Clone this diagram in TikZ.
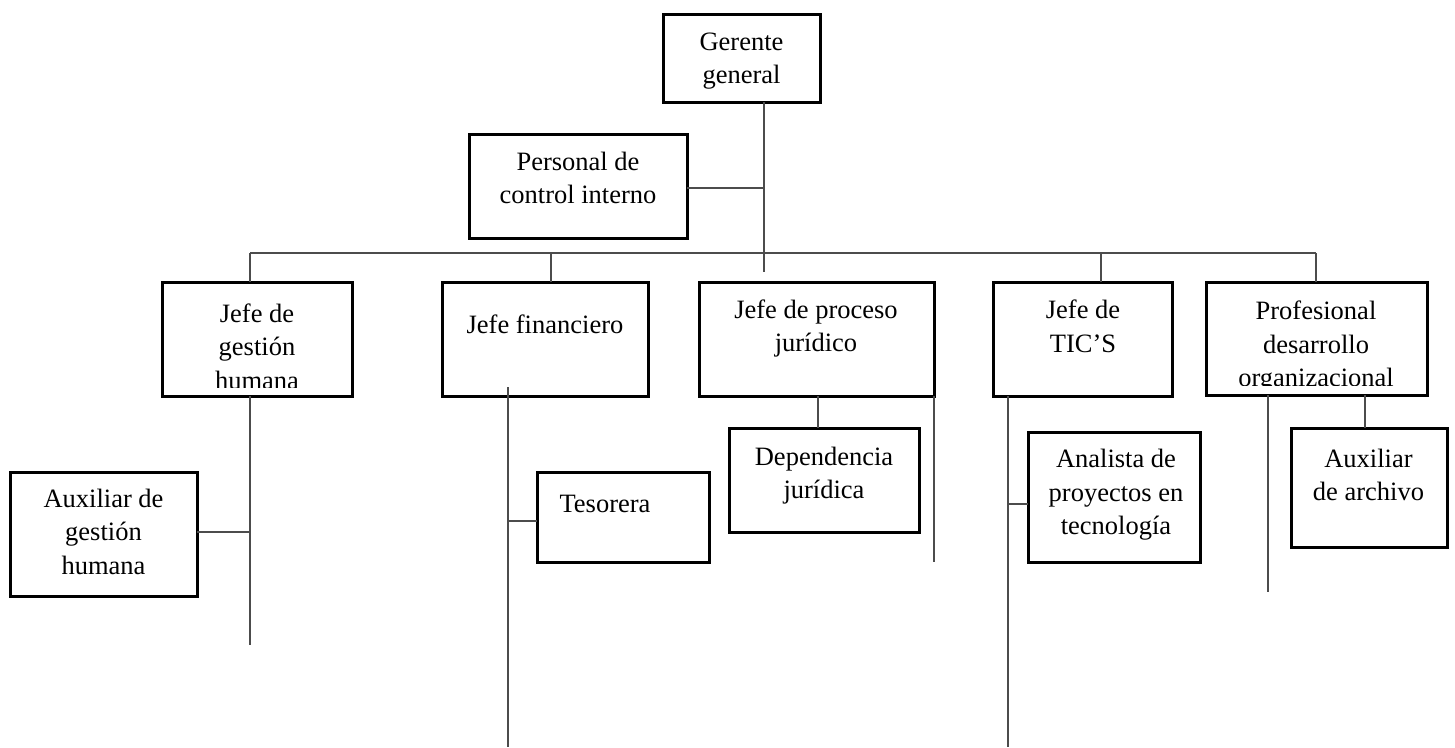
\documentclass[tikz,border=0pt]{standalone}
\usepackage{fontspec}
\setmainfont{Liberation Serif}
\tikzset{
  box/.style={draw=black, line width=3pt, inner sep=0pt, outer sep=0pt, anchor=north west},
  conn/.style={draw=black!70, line width=1.5pt},
  lbl/.style={inner sep=0pt, outer sep=0pt, anchor=base, font=\fontsize{26.5}{33.5}\selectfont}
}
\newcommand{\lines}[1]{\parbox[t]{260pt}{\centering #1}}
\begin{document}
\begin{tikzpicture}[x=1pt,y=-1pt]
\useasboundingbox (0,0) rectangle (1455,747);

% texts
\node[lbl] (gt) at (741.5,50) {\lines{Gerente\\general}};
\node[lbl] (pt) at (578,170) {\lines{Personal de\\control interno}};
\begin{scope}
  \clip (162,282) rectangle (352,387);
  \node[lbl] (jght) at (257,322) {\lines{Jefe de\\gestión\\humana}};
\end{scope}
\node[lbl] (jft) at (545,333) {\lines{Jefe financiero}};
\node[lbl] (jpjt) at (816,318) {\lines{Jefe de proceso\\jurídico}};
\node[lbl] (jtt) at (1083,318.5) {\lines{Jefe de\\TIC’S}};
\begin{scope}
  \clip (1206,282) rectangle (1427,385);
  \node[lbl] (pdt) at (1316,319.5) {\lines{Profesional\\desarrollo\\organizacional}};
\end{scope}
\node[lbl] (aght) at (103.5,507) {\lines{Auxiliar de\\gestión\\humana}};
\node[lbl] (test) at (605,512) {\lines{Tesorera}};
\node[lbl] (dept) at (824,465) {\lines{Dependencia\\jurídica}};
\node[lbl] (ant) at (1116,467.5) {\lines{Analista de\\proyectos en\\tecnología}};
\node[lbl] (aat) at (1368.5,467) {\lines{Auxiliar\\de archivo}};

% boxes
\node[box, minimum width=157pt, minimum height=88pt]  (g)   at (663,14)   {};
\node[box, minimum width=218pt, minimum height=104pt] (p)   at (469,134)  {};
\node[box, minimum width=190pt, minimum height=114pt] (jgh) at (162,282)  {};
\node[box, minimum width=206pt, minimum height=114pt] (jf)  at (442,282)  {};
\node[box, minimum width=235pt, minimum height=114pt] (jpj) at (699,282)  {};
\node[box, minimum width=179pt, minimum height=114pt] (jt)  at (993,282)  {};
\node[box, minimum width=221pt, minimum height=113pt] (pd)  at (1206,282) {};
\node[box, minimum width=187pt, minimum height=124pt] (agh) at (10,472)   {};
\node[box, minimum width=172pt, minimum height=90pt]  (tes) at (537,472)  {};
\node[box, minimum width=190pt, minimum height=104pt] (dep) at (729,428)  {};
\node[box, minimum width=172pt, minimum height=130pt] (an)  at (1028,432) {};
\node[box, minimum width=156pt, minimum height=119pt] (aa)  at (1291,428) {};

% junction coordinates
\coordinate (t1) at (764,272);
\coordinate (b1) at (250,253);
\coordinate (b2) at (551,253);
\coordinate (b4) at (1101,253);
\coordinate (b5) at (1316,253);
\coordinate (e1) at (250,645);
\coordinate (f0) at (508,387);
\coordinate (f1) at (508,747);
\coordinate (tj) at (508,521);
\coordinate (d0) at (818,428);
\coordinate (r1) at (934,562);
\coordinate (k1) at (1008,747);
\coordinate (kj) at (1008,504);
\coordinate (m1) at (1268,592);
\coordinate (m2) at (1365,428);

% connectors
\draw[conn] (g.south -| t1) -- (t1);
\draw[conn] (p.east |- 0,188) -- (t1 |- 0,188);
\draw[conn] (b1) -- (b5);
\draw[conn] (b1) -- (jgh.north -| b1);
\draw[conn] (b2) -- (jf.north -| b2);
\draw[conn] (b4) -- (jt.north -| b4);
\draw[conn] (b5) -- (pd.north -| b5);
\draw[conn] (jgh.south -| e1) -- (e1);
\draw[conn] (agh.east |- 0,532) -- (e1 |- 0,532);
\draw[conn] (f0) -- (f1);
\draw[conn] (tj) -- (tes.west |- tj);
\draw[conn] (jpj.south -| d0) -- (d0);
\draw[conn] (jpj.south east) -- (r1);
\draw[conn] (jt.south -| k1) -- (k1);
\draw[conn] (kj) -- (an.west |- kj);
\draw[conn] (pd.south -| m1) -- (m1);
\draw[conn] (pd.south -| m2) -- (aa.north -| m2);
\end{tikzpicture}
\end{document}
